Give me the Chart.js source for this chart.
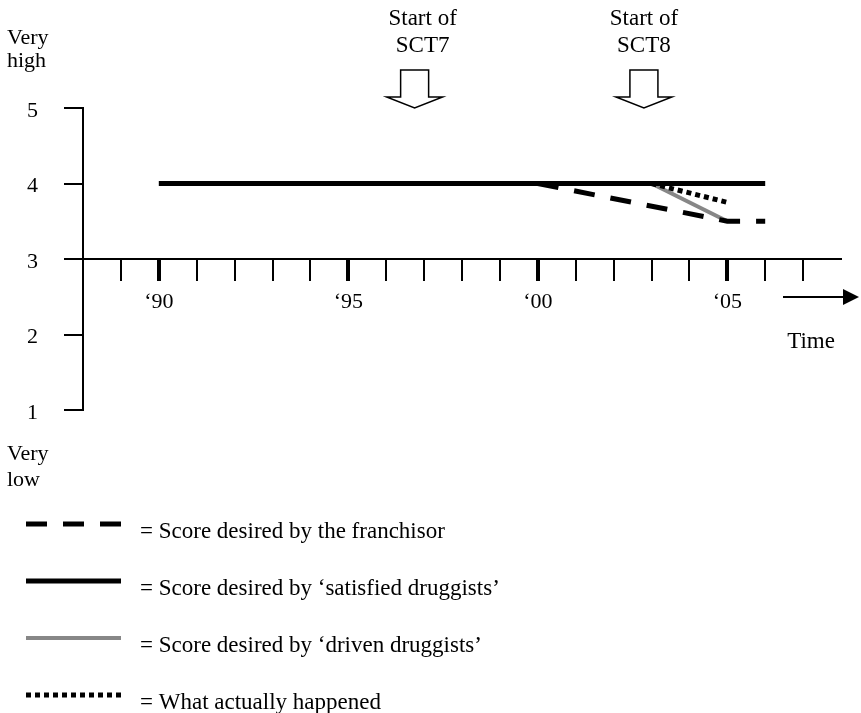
<!DOCTYPE html>
<html>
<head>
<meta charset="utf-8">
<script src="https://cdn.jsdelivr.net/npm/chart.js@4"></script>
<style>
  html, body { margin: 0; padding: 0; background: #fff; }
  #wrap { width: 861px; height: 713px; }
</style>
</head>
<body>
<div id="wrap"><canvas id="scoreChart"></canvas></div>
<script>
// years on the time axis
const yearMin = 1988;
const yearMax = 2008;
const yLevels = [1, 2, 3, 4, 5];

// series (x = year, y = score)
const franchisorX = [2000, 2005, 2006];
const franchisorY = [4, 3.5, 3.5];
const satisfiedX = [1990, 2006];
const satisfiedY = [4, 4];
const drivenX = [2003, 2005];
const drivenY = [4, 3.5];
const actualX = [2003, 2005];
const actualY = [4, 3.75];

const seriesLabels = [
  "Score desired by the franchisor",
  "Score desired by \u2018satisfied druggists\u2019",
  "Score desired by \u2018driven druggists\u2019",
  "What actually happened",
];

// "Start of" markers
const sctLabels = ["SCT7", "SCT8"];
const sctYears = [1996.75, 2002.8];

const FONT = "'Liberation Serif', 'Times New Roman', serif";
Chart.defaults.font.family = FONT;
Chart.defaults.font.size = 22;
Chart.defaults.color = "#000";

function pts(xs, ys) {
  return xs.map((x, i) => ({ x: x, y: ys[i] }));
}

const annotations = {
  id: "annotations",
  afterDraw(chart) {
    const { ctx } = chart;
    const xs = chart.scales.x;
    const ys = chart.scales.y;
    ctx.save();
    ctx.fillStyle = "#000";
    ctx.font = "22px " + FONT;
    ctx.textBaseline = "alphabetic";

    // scale end labels
    ctx.textAlign = "left";
    ctx.fillText("Very", 7, 44);
    ctx.fillText("high", 7, 67);
    ctx.fillText("Very", 7, 460);
    ctx.fillText("low", 7, 486);

    // start of SCT block arrows
    ctx.font = "23px " + FONT;
    const textShift = [8, 0];
    sctYears.forEach((yr, i) => {
      const cx = xs.getPixelForValue(yr);
      const tip = ys.getPixelForValue(5);
      ctx.textAlign = "center";
      ctx.fillText("Start of", cx + textShift[i], 25);
      ctx.fillText(sctLabels[i], cx + textShift[i], 52);
      ctx.beginPath();
      ctx.moveTo(cx - 14, tip - 38);
      ctx.lineTo(cx + 14, tip - 38);
      ctx.lineTo(cx + 14, tip - 11);
      ctx.lineTo(cx + 28, tip - 11);
      ctx.lineTo(cx, tip);
      ctx.lineTo(cx - 28, tip - 11);
      ctx.lineTo(cx - 14, tip - 11);
      ctx.closePath();
      ctx.fillStyle = "#fff";
      ctx.fill();
      ctx.lineWidth = 1.5;
      ctx.strokeStyle = "#000";
      ctx.stroke();
      ctx.fillStyle = "#000";
    });

    // time arrow
    const ay = 297;
    ctx.lineWidth = 2;
    ctx.beginPath();
    ctx.moveTo(783, ay);
    ctx.lineTo(846, ay);
    ctx.stroke();
    ctx.beginPath();
    ctx.moveTo(843, ay - 8);
    ctx.lineTo(859, ay);
    ctx.lineTo(843, ay + 8);
    ctx.closePath();
    ctx.fill();
    ctx.textAlign = "center";
    ctx.fillText("Time", 811, 348);

    // legend
    chart.data.datasets.forEach((ds, i) => {
      const ly = 524 + 57 * i;
      ctx.beginPath();
      ctx.setLineDash(ds.borderDash || []);
      ctx.lineWidth = ds.borderWidth;
      ctx.strokeStyle = ds.borderColor;
      ctx.lineCap = "butt";
      ctx.moveTo(26, ly);
      ctx.lineTo(121, ly);
      ctx.stroke();
      ctx.setLineDash([]);
      ctx.textAlign = "left";
      ctx.fillText("= " + ds.label, 140, ly + 14);
    });
    ctx.restore();
  },
};

new Chart(document.getElementById("scoreChart"), {
  type: "line",
  data: {
    datasets: [
      {
        label: seriesLabels[0],
        data: pts(franchisorX, franchisorY),
        borderColor: "#000",
        borderWidth: 5,
        borderDash: [21, 16],
      },
      {
        label: seriesLabels[1],
        data: pts(satisfiedX, satisfiedY),
        borderColor: "#000",
        borderWidth: 5,
      },
      {
        label: seriesLabels[2],
        data: pts(drivenX, drivenY),
        borderColor: "#878787",
        borderWidth: 4,
      },
      {
        label: seriesLabels[3],
        data: pts(actualX, actualY),
        borderColor: "#000",
        borderWidth: 5,
        borderDash: [5, 4],
        order: -1,
      },
    ],
  },
  options: {
    responsive: true,
    maintainAspectRatio: false,
    animation: false,
    elements: {
      point: { radius: 0 },
      line: { tension: 0, fill: false, borderCapStyle: "butt" },
    },
    layout: { padding: { left: 0, top: 108, right: 20, bottom: 303 } },
    plugins: {
      legend: { display: false },
      tooltip: { enabled: false },
    },
    scales: {
      x: {
        type: "linear",
        min: yearMin,
        max: yearMax,
        position: { y: 3 },
        afterFit: (scale) => {
          scale.height = 0;
        },
        ticks: {
          stepSize: 1,
          autoSkip: false,
          maxRotation: 0,
          padding: 9,
          callback: (v) =>
            v % 5 === 0 && v > yearMin && v < yearMax
              ? "\u2018" + String(v).slice(2)
              : "",
        },
        grid: {
          drawOnChartArea: false,
          tickLength: 21,
          lineWidth: (c) => (c.tick && c.tick.value % 5 === 0 ? 4 : 2),
          color: (c) =>
            c.tick && (c.tick.value === yearMin || c.tick.value === yearMax)
              ? "rgba(0,0,0,0)"
              : "#000",
        },
        border: { display: true, color: "#000", width: 2 },
      },
      y: {
        type: "linear",
        min: yLevels[0],
        max: yLevels[yLevels.length - 1],
        afterFit: (scale) => {
          scale.width = 83;
        },
        ticks: { stepSize: 1, padding: 26, labelOffset: 3 },
        grid: {
          drawOnChartArea: false,
          tickLength: 19,
          lineWidth: 2,
          color: "#000",
        },
        border: { display: true, color: "#000", width: 2 },
      },
    },
  },
  plugins: [annotations],
});
</script>
</body>
</html>
